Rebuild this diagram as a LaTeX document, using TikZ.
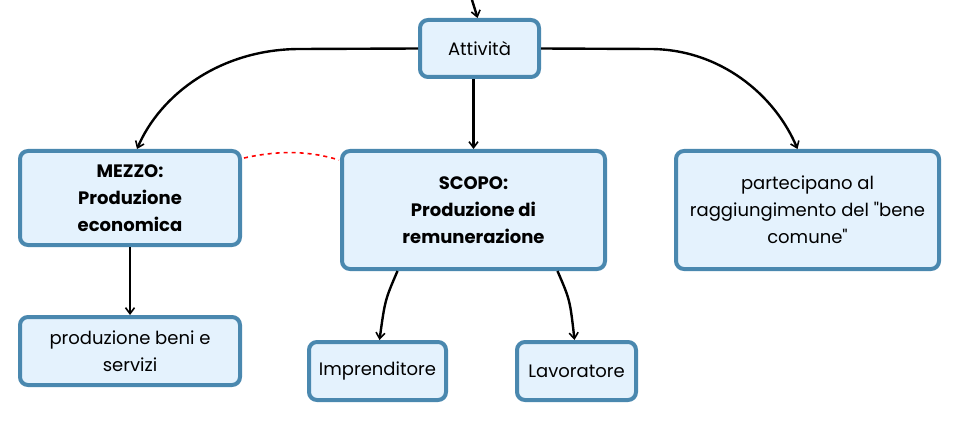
\documentclass[tikz,border=0pt]{standalone}
\usepackage{fontspec}
\setmainfont{Poppins}[Ligatures=TeXOff]
\usepackage{xcolor}
\usepackage{tikz}
\usetikzlibrary{arrows.meta}

\definecolor{boxline}{HTML}{4A88AF}
\definecolor{boxfill}{HTML}{E4F2FD}

\begin{document}
\begin{tikzpicture}[x=1pt,y=-1pt,
  concept/.style={draw=boxline, fill=boxfill, line width=4pt, rounded corners=8pt,
    align=center, inner sep=0pt, font=\fontsize{18}{27}\selectfont},
  link/.style={line width=2.4pt, -{Straight Barb[length=6pt,width=9pt,line width=1.6pt]}}]
\useasboundingbox (0,0) rectangle (960,422);

\node [concept, minimum width=119, minimum height=57] (att) at (479.5,48.5) {Attività};
\node [concept, minimum width=220, minimum height=94] (mezzo) at (130,198) {\textbf{MEZZO:}\\\textbf{Produzione}\\\textbf{economica}};
\node [concept, minimum width=263, minimum height=118] (scopo) at (473.5,210) {\textbf{SCOPO:}\\\textbf{Produzione di}\\\textbf{remunerazione}};
\node [concept, minimum width=263, minimum height=118] (bene) at (807.5,210) {partecipano al\\raggiungimento del "bene\\comune"};
\node [concept, minimum width=220, minimum height=68] (beni) at (130,351) {produzione beni e\\servizi};
\node [concept, minimum width=137, minimum height=58] (impr) at (377.5,371) {Imprenditore};
\node [concept, minimum width=119, minimum height=58] (lav) at (576.5,371) {Lavoratore};

\coordinate (in) at (472,0);
\draw [link] (in) .. controls (475,8) .. ([xshift=-2]att.north);
\draw [link] (att.west) -- (300,49) .. controls (220,49) and (160,95) .. ([xshift=7]mezzo.north);
\draw [link] (att.east) -- (650,49) .. controls (720,49) and (775,95) .. ([xshift=-10]bene.north);
\draw [link] ([xshift=-6]att.south) -- ([xshift=-6]att.south |- scopo.north);
\draw [link] (mezzo.south) -- (beni.north);
\draw [link] ([xshift=-76]scopo.south) .. controls (385,300) .. ([xshift=2]impr.north);
\draw [link] ([xshift=84]scopo.south) .. controls (570,300) .. ([xshift=-2]lav.north);

\draw [red, line width=1.6pt, dash pattern=on 4pt off 4pt] ([xshift=2,yshift=-9]mezzo.north east) .. controls (280,150) and (310,151) .. ([xshift=-1,yshift=-11]scopo.north west);
\end{tikzpicture}
\end{document}
